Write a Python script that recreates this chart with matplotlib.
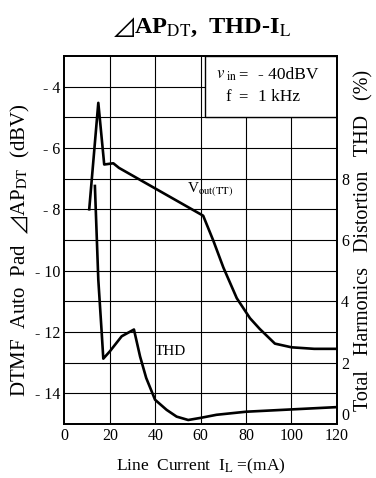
import matplotlib.pyplot as plt
from matplotlib.patches import Rectangle

plt.rcParams['font.family'] = ['Liberation Serif', 'DejaVu Serif']
plt.rcParams['mathtext.fontset'] = 'stix'

# data
vout_x = [10.9, 14.9, 17.5, 21.5, 24.0, 61.1, 65.6, 70.0, 75.9, 81.7, 86.0, 92.7, 100.0, 110.0, 120.0]
vout_y = [-8.0, -4.53, -6.54, -6.5, -6.65, -8.21, -9.03, -9.9, -10.9, -11.55, -11.9, -12.38, -12.5, -12.55, -12.55]

thd_x = [13.4, 14.9, 16.4, 17.1, 20.0, 25.2, 30.6, 33.3, 36.0, 39.9, 45.0, 49.4, 54.5, 60.0, 67.0, 80.0, 96.0, 120.0]
thd_y = [7.76, 4.7, 2.97, 2.13, 2.37, 2.86, 3.08, 2.2, 1.5, 0.79, 0.46, 0.24, 0.13, 0.2, 0.3, 0.4, 0.46, 0.55]

x_ticks = [0, 20, 40, 60, 80, 100, 120]
left_ticks = [-4, -6, -8, -10, -12, -14]
right_ticks = [0, 2, 4, 6, 8]

fig = plt.figure(figsize=(3.76, 4.78), dpi=100)
ax1 = fig.add_axes([0.1715, 0.113, 0.7245, 0.77])
ax2 = ax1.twinx()

ax1.set_xlim(0, 120)
ax1.set_ylim(-15, -3)
ax2.set_ylim(0, 12)

# grid: every 20 mA, every 1 dB
for gx in range(20, 120, 20):
    ax1.axvline(gx, color='black', lw=0.8, zorder=1)
for gy in range(-14, -3):
    ax1.axhline(gy, color='black', lw=0.8, zorder=1)

# condition box
ax1.add_patch(Rectangle((62, -5), 58, 2, facecolor='white', edgecolor='black', lw=1.0, zorder=2))
ax1.text(66.7, -3.62, r'$\mathit{v}_{\rm\ in}$', fontsize=12, va='center', zorder=3)
ax1.text(76.4, -3.62, '=', fontsize=12, va='center', zorder=3)
ax1.text(85.2, -3.62, '- 40dBV', fontsize=12.5, va='center', zorder=3)
ax1.text(70.7, -4.33, 'f', fontsize=12, va='center', zorder=3)
ax1.text(76.4, -4.33, '=', fontsize=12, va='center', zorder=3)
ax1.text(85.2, -4.33, '1 kHz', fontsize=12.5, va='center', zorder=3)

ax1.plot(vout_x, vout_y, color='black', lw=1.9, zorder=4)
ax2.plot(thd_x, thd_y, color='black', lw=1.9, zorder=4)

ax1.text(53.8, -7.35, r'V$_{\rm out(TT)}$', fontsize=11, va='center', zorder=3)
ax1.text(46.8, -12.65, 'THD', fontsize=11, ha='center', va='center', zorder=3)

ax1.set_xticks(x_ticks)
ax1.set_yticks(left_ticks)
ax1.set_yticklabels([f'- {abs(v)}' for v in left_ticks])
ax2.set_yticks(right_ticks)
ax1.tick_params(axis='both', length=0, labelsize=11.5, pad=3)
ax2.tick_params(axis='y', length=0, labelsize=11.5, pad=3)
ax2.get_yticklabels()[0].set_va('bottom')

for ax in (ax1, ax2):
    for sp in ax.spines.values():
        sp.set_linewidth(1.3)

ax1.set_xlabel(r'Line  Current  I$_{\rm L}$ =(mA)', fontsize=12.5, labelpad=9)
ax1.set_ylabel(r'DTMF  Auto  Pad  $\mathit{⊿}$AP$_{\rm DT}$  (dBV)', fontsize=15)
ax1.yaxis.set_label_coords(-0.12, 0.473)
ax2.set_ylabel('Total   Harmonics   Distortion   THD   (%)', fontsize=14.5, labelpad=4)

fig.text(0.537, 0.942, r'$\mathit{⊿}$AP$_{\rm DT}$,  THD-I$_{\rm L}$', fontsize=17.5, fontweight='bold',
         ha='center', va='center')

fig.savefig('out.png', dpi=100)
